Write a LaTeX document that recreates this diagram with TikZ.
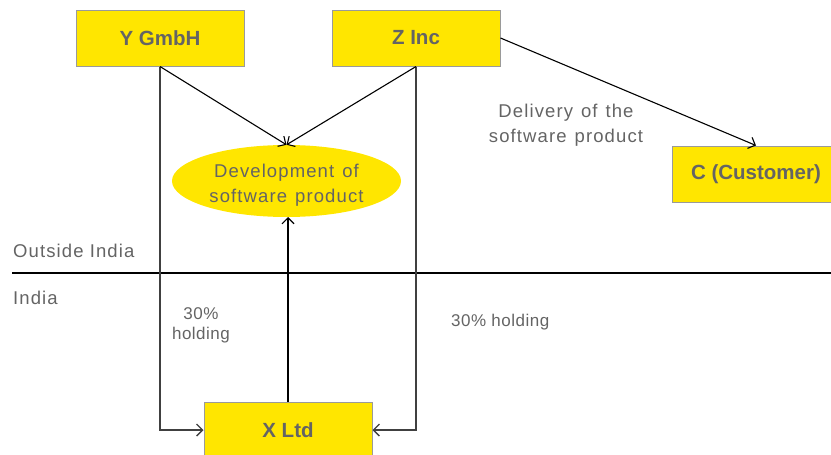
\documentclass[tikz,border=0pt]{standalone}
\usepackage{fontspec}
\setmainfont{Liberation Sans}
\usetikzlibrary{arrows.meta,shapes.geometric}
\definecolor{boxyellow}{HTML}{FFE600}
\definecolor{boxedge}{HTML}{9A9A9A}
\definecolor{txtgrey}{HTML}{646464}
\definecolor{linegrey}{HTML}{404040}
\newcommand{\bodytext}{\fontsize{18.5}{25}\selectfont\addfontfeatures{LetterSpace=6}}
\newcommand{\widetext}{\bodytext\spaceskip=8pt plus 1pt\relax}
\newcommand{\smalltext}{\fontsize{17}{20}\selectfont\addfontfeatures{LetterSpace=3}}
\begin{document}
\begin{tikzpicture}[x=1pt,y=-1pt,
  entity/.style={draw=boxedge,line width=1pt,fill=boxyellow,minimum width=168pt,
    minimum height=56pt,inner sep=0pt,text=txtgrey,font=\fontsize{20.5}{24}\selectfont\bfseries},
  activity/.style={ellipse,fill=boxyellow,minimum width=229pt,minimum height=72pt,
    inner sep=0pt},
  label/.style={text=txtgrey,inner sep=0pt},
  flow/.style={draw=black,line width=1.1pt,-{Straight Barb[length=6pt,width=12pt]}},
  share/.style={draw=linegrey,line width=1.3pt,-{Straight Barb[length=6pt,width=12pt]}}]
\useasboundingbox (0,0) rectangle (831,455);

% parties
\node[entity] (Y) at (160,38) {Y GmbH};
\node[entity] (Z) at (416,38) {Z Inc};
\node[entity] (C) at (756,174) {C (Customer)};
\node[entity] (X) at (288,430) {X Ltd};
\node[activity] (dev) at (286.5,181) {};
\node[label,align=center,font=\widetext] (devtext) at (286.5,185) {Development of\\software product};

% boundary between jurisdictions
\coordinate (bl) at (12,273);
\coordinate (br) at (831,273);
\draw[line width=1.6pt] (bl) -- (br);
\node[label,anchor=west,font=\bodytext] (out) at (13,251) {Outside India};
\node[label,anchor=west,font=\bodytext] (ind) at (13,298) {India};

% shareholdings
\draw[share] (Y.south) |- (X.west);
\draw[share] (Z.south) |- (X.east);
\node[label,align=center,font=\smalltext] (hy) at (201,325) {30\%\\holding};
\node[label,anchor=west,font=\smalltext] (hz) at (451,322) {30\% holding};

% development and delivery
\draw[flow] (Y.south) -- (dev.north);
\draw[flow] (Z.south) -- (dev.north);
\draw[flow] (X.north) -- (288,217);
\draw[flow] (Z.east) -- (C.north);
\node[label,align=center,font=\widetext] (del) at (566,125) {Delivery of the\\software product};
\end{tikzpicture}
\end{document}
